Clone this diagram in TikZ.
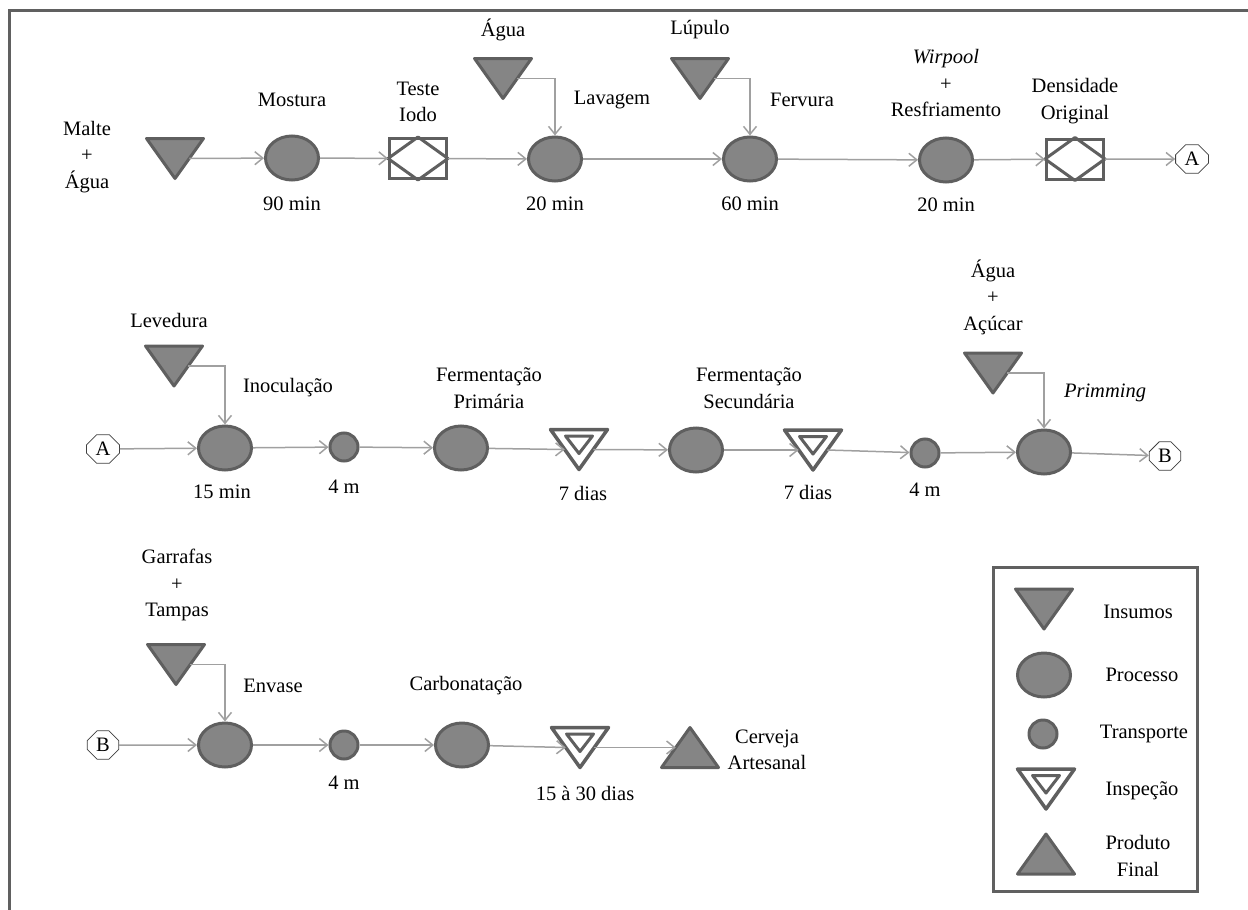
\documentclass[tikz,border=0pt]{standalone}
\usepackage{fontspec}
\setmainfont{Liberation Serif}
\usetikzlibrary{shapes.geometric,shapes.misc,arrows.meta,calc}
\definecolor{shapefill}{HTML}{858585}
\definecolor{shapeline}{HTML}{5F5F5F}
\definecolor{flowline}{HTML}{A0A0A0}
\definecolor{framecol}{HTML}{606060}

% input (inverted triangle), inspection and final product symbols
\newcommand\DrawInput[3]{%
  \node[tribox] (#1) at (#2,#3) {};
  \path[solid tri] (#1.north west) -- (#1.north east) -- (#1.south) -- cycle;}
\newcommand\DrawInsp[3]{%
  \node[tribox] (#1) at (#2,#3) {};
  \path[open tri] (#1.north west) -- (#1.north east) -- (#1.south) -- cycle;
  \path[open tri, line width=3pt] ($(#1.center)+(-13.5,-13.5)$) -- ($(#1.center)+(13.5,-13.5)$) -- ($(#1.center)+(0,4)$) -- cycle;}
\newcommand\DrawProduct[3]{%
  \node[tribox] (#1) at (#2,#3) {};
  \path[solid tri] (#1.south west) -- (#1.south east) -- (#1.north) -- cycle;}

\begin{document}
\begin{tikzpicture}[x=1pt,y=-1pt,
  every node/.style={font=\fontsize{20.5}{26.5}\selectfont},
  lbl/.style={inner sep=0pt, align=center},
  proc/.style={ellipse, draw=shapeline, fill=shapefill, line width=3pt,
    minimum width=53pt, minimum height=44pt, inner sep=0pt},
  transp/.style={circle, draw=shapeline, fill=shapefill, line width=3pt,
    minimum size=28pt, inner sep=0pt},
  tribox/.style={rectangle, minimum width=57pt, minimum height=40pt,
    inner sep=0pt, outer sep=0pt},
  chk/.style={rectangle, draw=shapeline, fill=white, line width=3pt,
    minimum width=57pt, minimum height=40pt, inner sep=0pt},
  conn/.style={chamfered rectangle, chamfered rectangle xsep=5pt,
    chamfered rectangle ysep=5pt, draw=black!75, fill=white, line width=0.8pt,
    inner xsep=4pt, inner ysep=2.5pt},
  flow/.style={draw=flowline, line width=1.5pt,
    -{Straight Barb[length=8pt,width=13pt]}},
  solid tri/.style={draw=shapeline, fill=shapefill, line width=3pt, line join=round},
  open tri/.style={draw=shapeline, fill=white, line width=3.5pt, line join=round},
]
\useasboundingbox (0,0) rectangle (1248,910);

% page frame (top and left edges)
\draw[framecol, line width=3pt] (9,910) -- (9,10) -- (1248,10);

% ---------------- first line: brewing ----------------
\node[lbl] (tMalte) at (87,157) {Malte\\+\\Água};
\DrawInput{in1}{175}{158.5}
\node[proc] (mos) at (292,158) {};
\node[lbl] (tMos) at (292,100) {Mostura};
\node[lbl] (tMosT) at (292,204) {90 min};
\node[chk] (iodo) at (418,158.5) {};
\draw[shapeline, line width=3pt, line join=round] (iodo.north) -- (iodo.east) -- (iodo.south) -- (iodo.west) -- cycle;
\node[lbl] (tIodo) at (418,102) {Teste\\Iodo};
\DrawInput{in2}{503}{78.5}
\node[lbl] (tAgua1) at (503,30) {Água};
\node[proc] (lav) at (555,159) {};
\node[lbl] (tLav) at (612,100) {Lavagem};
\node[lbl] (tLavT) at (555,204) {20 min};
\DrawInput{in3}{700}{78.5}
\node[lbl] (tLup) at (700,30) {Lúpulo};
\node[proc] (ferv) at (750,159) {};
\node[lbl] (tFerv) at (802,100) {Fervura};
\node[lbl] (tFervT) at (750,204) {60 min};
\node[proc] (resf) at (946,160) {};
\node[lbl] (tResf) at (946,83) {\textit{Wirpool}\\+\\Resfriamento};
\node[lbl] (tResfT) at (946,205) {20 min};
\node[chk] (dens) at (1075,159) {};
\draw[shapeline, line width=3pt, line join=round] (dens.north) -- (dens.east) -- (dens.south) -- (dens.west) -- cycle;
\node[lbl] (tDens) at (1075,101) {Densidade\\Original};
\node[conn] (cA1) at (1192,159) {A};

\draw[flow] ($(in1.north east)!0.5!(in1.south)$) -- (mos);
\draw[flow] (mos) -- (iodo);
\draw[flow] (iodo) -- (lav);
\draw[flow] (lav) -- (ferv);
\draw[flow] (ferv) -- (resf);
\draw[flow] (resf) -- (dens);
\draw[flow] (dens) -- (cA1);
\draw[flow] ($(in2.north east)!0.5!(in2.south)$) -| (lav);
\draw[flow] ($(in3.north east)!0.5!(in3.south)$) -| (ferv);

% ---------------- second line: fermentation ----------------
\node[conn] (cA2) at (103,449) {A};
\DrawInput{in4}{174}{366}
\node[lbl] (tLev) at (169,320) {Levedura};
\node[proc] (ino) at (225,448) {};
\node[lbl] (tIno) at (288,388) {Inoculação};
\node[lbl] (tInoT) at (222,492) {15 min};
\node[transp] (tr1) at (344,447) {};
\node[lbl] (tTr1) at (344,487) {4 m};
\node[proc] (fp) at (461,448) {};
\node[lbl] (tFp) at (489,388) {Fermentação\\Primária};
\DrawInsp{ip1}{579}{449.5}
\node[lbl] (tIp1) at (583,493) {7 dias};
\node[proc] (fs) at (696,450) {};
\node[lbl] (tFs) at (749,388) {Fermentação\\Secundária};
\DrawInsp{ip2}{813}{450}
\node[lbl] (tIp2) at (808,492) {7 dias};
\node[transp] (tr2) at (925,453) {};
\node[lbl] (tTr2) at (925,490) {4 m};
\DrawInput{in5}{993}{373}
\node[lbl] (tAcu) at (993,297) {Água\\+\\Açúcar};
\node[proc] (prim) at (1044,452) {};
\node[lbl] (tPrim) at (1105,393) {\textit{Primming}};
\node[conn] (cB1) at (1165,456) {B};

\draw[flow] (cA2) -- (ino);
\draw[flow] (ino) -- (tr1);
\draw[flow] (tr1) -- (fp);
\draw[flow] (fp) -- ($(ip1.north west)!0.5!(ip1.south)$);
\draw[flow] ($(ip1.north east)!0.5!(ip1.south)$) -- (fs);
\draw[flow] (fs) -- ($(ip2.north west)!0.5!(ip2.south)$);
\draw[flow] ($(ip2.north east)!0.5!(ip2.south)$) -- (tr2);
\draw[flow] (tr2) -- (prim);
\draw[flow] (prim) -- (cB1);
\draw[flow] ($(in4.north east)!0.5!(in4.south)$) -| (ino);
\draw[flow] ($(in5.north east)!0.5!(in5.south)$) -| (prim);

% ---------------- third line: bottling ----------------
\node[conn] (cB2) at (103,745) {B};
\DrawInput{in6}{176}{664.5}
\node[lbl] (tGar) at (177,585) {Garrafas\\+\\Tampas};
\node[proc] (env) at (225,745) {};
\node[lbl] (tEnv) at (273,686) {Envase};
\node[transp] (tr3) at (344,745) {};
\node[lbl] (tTr3) at (344,783) {4 m};
\node[proc] (carb) at (462,745) {};
\node[lbl] (tCarb) at (466,686) {Carbonatação};
\DrawInsp{ip3}{580}{747.5}
\node[lbl] (tIp3) at (585,793) {15 à 30 dias};
\DrawProduct{prod}{690}{747.5}
\node[lbl] (tProd) at (767,750) {Cerveja\\Artesanal};

\draw[flow] (cB2) -- (env);
\draw[flow] (env) -- (tr3);
\draw[flow] (tr3) -- (carb);
\draw[flow] (carb) -- ($(ip3.north west)!0.5!(ip3.south)$);
\draw[flow] ($(ip3.north east)!0.5!(ip3.south)$) -- ($(prod.north)!0.5!(prod.south west)$);
\draw[flow] ($(in6.north east)!0.5!(in6.south)$) -| (env);

% ---------------- legend ----------------
\draw[framecol, line width=3pt] (993,567) rectangle (1197,891);
\DrawInput{lg1}{1044}{609}
\node[lbl] (tLg1) at (1138,612) {Insumos};
\node[proc] (lg2) at (1044,675) {};
\node[lbl] (tLg2) at (1142,675) {Processo};
\node[transp] (lg3) at (1043,734) {};
\node[lbl] (tLg3) at (1144,734) {Transporte};
\DrawInsp{lg4}{1046}{789}
\node[lbl] (tLg4) at (1142,791) {Inspeção};
\DrawProduct{lg5}{1046}{854}
\node[lbl] (tLg5) at (1138,856) {Produto\\Final};
\end{tikzpicture}
\end{document}
